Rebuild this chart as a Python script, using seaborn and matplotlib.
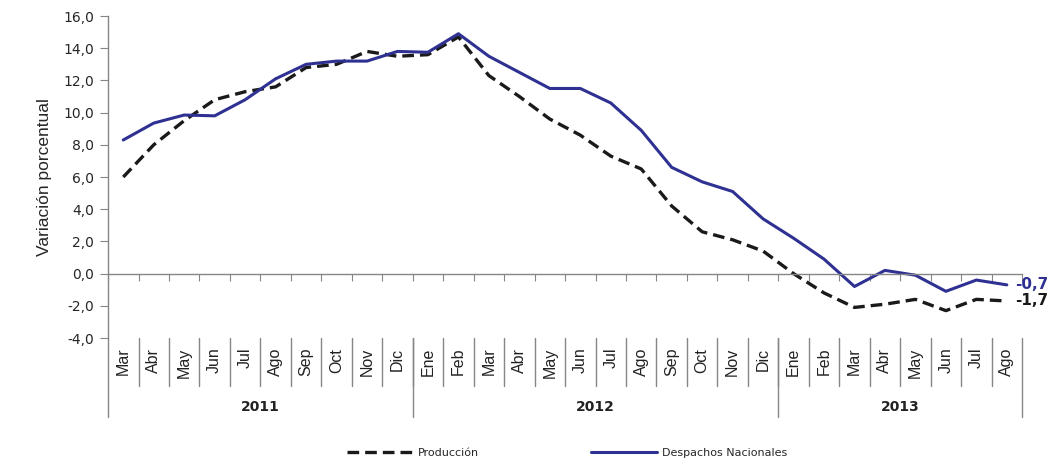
import pandas as pd
import seaborn as sns
import matplotlib.pyplot as plt
from matplotlib import font_manager
from matplotlib.ticker import FuncFormatter

# monthly data, Mar 2011 - Ago 2013
meses = ["Mar", "Abr", "May", "Jun", "Jul", "Ago", "Sep", "Oct", "Nov", "Dic",
         "Ene", "Feb", "Mar", "Abr", "May", "Jun", "Jul", "Ago", "Sep", "Oct", "Nov", "Dic",
         "Ene", "Feb", "Mar", "Abr", "May", "Jun", "Jul", "Ago"]
anios = ["2011", "2012", "2013"]
meses_por_anio = [10, 12, 8]

produccion = [6.0, 8.0, 9.5, 10.8, 11.3, 11.6, 12.8, 13.0, 13.8, 13.5,
              13.6, 14.7, 12.3, 11.0, 9.6, 8.6, 7.3, 6.5, 4.2, 2.6, 2.1, 1.4,
              0.0, -1.2, -2.1, -1.9, -1.6, -2.3, -1.6, -1.7]
despachos = [8.3, 9.35, 9.85, 9.8, 10.8, 12.1, 13.0, 13.2, 13.2, 13.8,
             13.75, 14.9, 13.5, 12.5, 11.5, 11.5, 10.6, 8.9, 6.6, 5.7, 5.1, 3.4,
             2.2, 0.9, -0.8, 0.2, -0.1, -1.1, -0.4, -0.7]

navy = "#2E3192"
grey = "#868686"

installed = {f.name for f in font_manager.fontManager.ttflist}
narrow = "Liberation Sans Narrow" if "Liberation Sans Narrow" in installed else "Liberation Sans"

sns.set_style("white")
plt.rcParams["font.family"] = ["DejaVu Sans"]

df = pd.DataFrame({
    "idx": list(range(len(meses))) * 2,
    "valor": produccion + despachos,
    "serie": ["Producción"] * len(meses) + ["Despachos Nacionales"] * len(meses),
})

fig = plt.figure(figsize=(10.54, 4.59), dpi=100)
ax = fig.add_axes([0.1025, 0.2636, 0.8672, 0.7015])

sns.lineplot(data=df[df["serie"] == "Producción"], x="idx", y="valor", ax=ax,
             color="#1a1a1a", linewidth=2.4, dashes=False, label="Producción")
sns.lineplot(data=df[df["serie"] == "Despachos Nacionales"], x="idx", y="valor", ax=ax,
             color=navy, linewidth=2.2, label="Despachos Nacionales")
ax.lines[0].set_dashes((3.5, 1.8))

ax.set_xlim(-0.5, len(meses) - 0.5)
ax.set_ylim(-4, 16)
ax.set_yticks(range(-4, 17, 2))
ax.yaxis.set_major_formatter(FuncFormatter(lambda v, p: f"{v:.1f}".replace(".", ",")))
ax.tick_params(axis="y", length=6, color=grey, labelsize=10, pad=4, left=True)
ax.set_xticks([i - 0.5 for i in range(len(meses) + 1)])
ax.set_xticklabels([])
ax.tick_params(axis="x", length=5, color=grey, bottom=True, direction="out")
ax.set_xlabel("")
ax.set_ylabel("Variación porcentual", fontsize=12.5, family=narrow, labelpad=8)

for s in ["top", "right"]:
    ax.spines[s].set_visible(False)
ax.spines["bottom"].set_position(("data", 0))
for s in ["bottom", "left"]:
    ax.spines[s].set_color(grey)
    ax.spines[s].set_linewidth(1.0)

# category labels below the plot
trans = ax.get_xaxis_transform()
for i, m in enumerate(meses):
    ax.text(i, -0.03, m, rotation=90, ha="center", va="top", fontsize=11.5,
            family=narrow, color="#222222", transform=trans)
for i in range(1, len(meses)):
    ax.plot([i - 0.5, i - 0.5], [0, -0.149], color=grey, lw=1.0,
            transform=trans, clip_on=False)
inicio = 0
bordes = [-0.5]
for a, n in zip(anios, meses_por_anio):
    ax.text(inicio + n / 2 - 0.5, -0.214, a, ha="center", va="center",
            fontsize=10, fontweight="bold", color="#222222", transform=trans)
    inicio += n
    bordes.append(inicio - 0.5)
for b in bordes:
    ax.plot([b, b], [0, -0.245], color=grey, lw=1.0, transform=trans, clip_on=False)

# end labels
ax.annotate("-0,7", (len(meses) - 1, despachos[-1]), xytext=(6, 0), textcoords="offset points",
            ha="left", va="center", fontsize=11, fontweight="bold", color=navy,
            annotation_clip=False)
ax.annotate("-1,7", (len(meses) - 1, produccion[-1]), xytext=(6, 0), textcoords="offset points",
            ha="left", va="center", fontsize=11, fontweight="bold", color="#1a1a1a",
            annotation_clip=False)

handles, labels = ax.get_legend_handles_labels()
ax.get_legend().remove()
fig.legend(handles, labels, loc="center", bbox_to_anchor=(0.538, 0.013), ncol=2,
           frameon=False, fontsize=8, handlelength=6, columnspacing=10, handletextpad=0.4)

fig.savefig("out.png", dpi=100)
